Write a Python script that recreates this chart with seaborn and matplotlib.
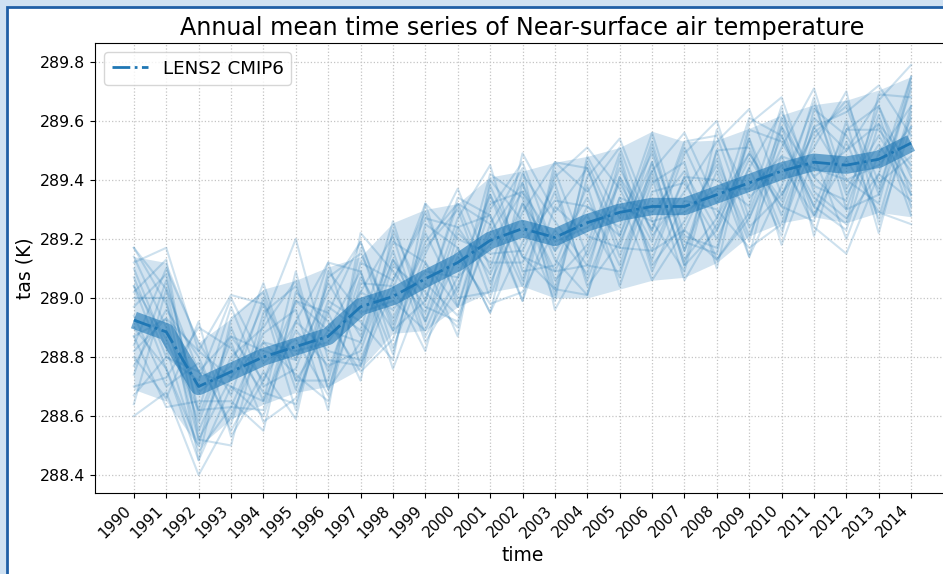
import numpy as np
import pandas as pd
import matplotlib
matplotlib.use("Agg")
import matplotlib.pyplot as plt
from matplotlib.patches import Rectangle
import seaborn as sns

years = list(range(1990, 2015))

ens_mean = [288.925, 288.885, 288.70, 288.75, 288.80, 288.835, 288.87, 288.97, 289.005,
            289.065, 289.12, 289.195, 289.235, 289.205, 289.255, 289.29, 289.31, 289.31,
            289.35, 289.39, 289.43, 289.46, 289.45, 289.47, 289.525]

band_upper = [289.14, 289.12, 288.85, 288.93, 289.03, 289.06, 289.105, 289.14, 289.255,
              289.30, 289.32, 289.41, 289.43, 289.46, 289.48, 289.51, 289.565, 289.53,
              289.535, 289.575, 289.62, 289.655, 289.67, 289.705, 289.75]
band_lower = [288.69, 288.65, 288.495, 288.59, 288.64, 288.68, 288.70, 288.76, 288.88,
              288.89, 288.97, 289.02, 289.04, 289.00, 289.00, 289.03, 289.06, 289.07,
              289.12, 289.21, 289.255, 289.275, 289.255, 289.29, 289.275]

m01 = [288.97, 289.08, 288.60, 288.87, 288.72, 288.99, 288.89, 288.85, 289.19, 289.12, 288.97, 289.30, 289.46, 289.16, 289.34, 289.11, 289.43, 289.56, 289.32, 289.49, 289.31, 289.61, 289.50, 289.67, 289.79]
m02 = [288.60, 288.68, 288.40, 288.60, 288.85, 288.74, 288.65, 289.05, 289.04, 288.82, 289.22, 289.12, 289.12, 289.36, 289.06, 289.34, 289.06, 289.23, 289.47, 289.21, 289.48, 289.24, 289.15, 289.42, 289.33]
m03 = [289.12, 289.17, 288.82, 289.01, 288.98, 288.79, 289.02, 289.19, 288.91, 289.19, 289.32, 289.05, 289.29, 289.46, 289.36, 289.51, 289.21, 289.36, 289.53, 289.64, 289.35, 289.56, 289.65, 289.35, 289.61]
m04 = [288.82, 288.93, 288.52, 288.50, 288.92, 289.20, 288.79, 288.77, 289.11, 289.02, 288.90, 289.38, 289.14, 289.03, 289.46, 289.21, 289.46, 289.11, 289.23, 289.44, 289.63, 289.41, 289.30, 289.62, 289.31]
m05 = [289.07, 288.80, 288.75, 288.70, 288.60, 288.92, 289.12, 289.09, 288.81, 289.25, 289.17, 288.95, 289.39, 289.13, 289.01, 289.41, 289.13, 289.41, 289.13, 289.29, 289.58, 289.28, 289.53, 289.27, 289.65]
m06 = [288.70, 288.73, 288.90, 288.83, 288.68, 288.64, 288.97, 288.89, 289.26, 288.92, 289.24, 289.28, 288.99, 289.31, 289.21, 289.17, 289.51, 289.16, 289.43, 289.14, 289.38, 289.66, 289.35, 289.52, 289.35]
m07 = [289.00, 289.00, 288.45, 288.93, 289.02, 288.72, 288.72, 289.12, 289.06, 289.29, 289.02, 289.42, 289.34, 289.01, 289.41, 289.54, 289.26, 289.09, 289.50, 289.51, 289.23, 289.54, 289.67, 289.39, 289.48]
m08 = [288.87, 288.63, 288.65, 288.65, 288.55, 289.02, 288.92, 288.75, 288.86, 289.15, 289.37, 289.10, 289.42, 289.26, 289.11, 289.09, 289.39, 289.46, 289.10, 289.57, 289.53, 289.34, 289.25, 289.69, 289.68]
m09 = [289.17, 289.03, 288.55, 288.80, 288.90, 289.06, 288.69, 289.02, 289.21, 288.87, 289.07, 289.35, 289.06, 289.41, 289.51, 289.37, 289.16, 289.41, 289.40, 289.31, 289.65, 289.21, 289.57, 289.57, 289.43]
m10 = [288.77, 288.96, 288.80, 288.55, 288.75, 288.59, 289.07, 289.15, 288.93, 289.17, 289.30, 289.00, 289.32, 289.09, 289.31, 289.24, 289.56, 289.21, 289.17, 289.54, 289.28, 289.58, 289.40, 289.32, 289.73]
m11 = [289.04, 288.76, 288.50, 288.90, 288.65, 288.89, 288.77, 288.82, 289.13, 288.97, 288.92, 289.25, 289.44, 288.96, 289.16, 289.44, 289.23, 289.53, 289.55, 289.24, 289.35, 289.51, 289.70, 289.25, 289.58]
m12 = [288.84, 289.10, 288.85, 288.67, 289.00, 288.69, 288.99, 288.92, 288.79, 289.32, 289.20, 289.15, 289.16, 289.39, 289.04, 289.19, 289.43, 289.13, 289.27, 289.61, 289.55, 289.31, 289.23, 289.59, 289.28]
m13 = [289.10, 288.83, 288.48, 288.63, 288.88, 288.96, 288.62, 289.22, 289.09, 288.95, 289.27, 289.45, 289.09, 289.11, 289.38, 289.04, 289.36, 289.39, 289.20, 289.44, 289.21, 289.64, 289.55, 289.37, 289.71]
m14 = [288.74, 289.06, 288.62, 288.97, 288.70, 288.76, 289.05, 288.87, 289.16, 288.85, 289.04, 289.32, 289.36, 289.06, 289.18, 289.49, 289.11, 289.26, 289.45, 289.19, 289.61, 289.38, 289.33, 289.65, 289.41]
m15 = [288.94, 288.70, 288.78, 288.57, 288.95, 289.04, 288.75, 289.07, 288.89, 289.22, 289.00, 289.02, 289.49, 289.29, 289.44, 289.14, 289.41, 289.06, 289.25, 289.47, 289.31, 289.26, 289.60, 289.22, 289.63]
m16 = [289.14, 288.90, 288.58, 288.85, 288.58, 288.66, 288.95, 288.72, 289.23, 288.99, 289.34, 289.28, 289.04, 289.43, 289.14, 289.39, 289.19, 289.49, 289.60, 289.27, 289.51, 289.71, 289.37, 289.55, 289.38]
m17 = [288.67, 288.80, 288.72, 289.00, 288.78, 288.86, 288.67, 289.17, 288.83, 289.12, 288.87, 289.40, 289.26, 288.99, 289.48, 289.27, 289.49, 289.19, 289.15, 289.59, 289.68, 289.36, 289.27, 289.42, 289.75]
m18 = [289.02, 289.13, 288.52, 288.73, 288.98, 288.62, 289.09, 288.95, 288.99, 288.89, 289.14, 288.98, 289.02, 289.23, 289.08, 289.47, 289.09, 289.33, 289.30, 289.17, 289.25, 289.58, 289.63, 289.72, 289.55]
m19 = [288.80, 288.66, 288.92, 288.53, 288.72, 288.92, 288.82, 288.79, 289.06, 289.27, 289.24, 289.08, 289.32, 289.16, 289.28, 289.07, 289.46, 289.11, 289.57, 289.34, 289.45, 289.28, 289.47, 289.29, 289.25]
m20 = [289.17, 288.98, 288.68, 288.77, 289.05, 288.72, 288.89, 289.09, 288.76, 289.05, 288.94, 289.22, 289.39, 289.03, 289.01, 289.34, 289.29, 289.43, 289.23, 289.54, 289.18, 289.48, 289.20, 289.49, 289.65]
m21 = [288.90, 288.76, 288.45, 288.70, 288.65, 289.09, 288.69, 288.85, 289.13, 288.92, 289.17, 288.95, 289.19, 289.33, 289.31, 289.21, 289.53, 289.16, 289.50, 289.14, 289.58, 289.41, 289.50, 289.59, 289.45]
m22 = [288.64, 289.03, 288.75, 288.87, 288.82, 288.79, 289.12, 288.77, 289.03, 289.32, 288.97, 289.35, 289.14, 289.09, 289.11, 289.41, 289.23, 289.51, 289.27, 289.49, 289.33, 289.68, 289.30, 289.35, 289.75]
m23 = [289.04, 288.86, 288.62, 288.63, 288.62, 288.99, 288.95, 289.19, 288.89, 288.99, 289.32, 289.25, 288.99, 289.46, 289.44, 289.17, 289.16, 289.23, 289.13, 289.27, 289.55, 289.31, 289.57, 289.65, 289.35]
m24 = [288.87, 288.93, 288.82, 288.73, 288.85, 288.82, 288.85, 289.02, 288.96, 289.09, 289.07, 289.18, 289.36, 289.19, 289.24, 289.31, 289.26, 289.29, 289.37, 289.37, 289.48, 289.44, 289.40, 289.45, 289.58]

members = [m01, m02, m03, m04, m05, m06, m07, m08, m09, m10, m11, m12,
           m13, m14, m15, m16, m17, m18, m19, m20, m21, m22, m23, m24]

ytick_vals = [288.4, 288.6, 288.8, 289.0, 289.2, 289.4, 289.6, 289.8]

# long-form table for seaborn
rows = []
for k, m in enumerate(members):
    for yr, v in zip(years, m):
        rows.append({"member": k, "time": yr, "tas": v})
df = pd.DataFrame(rows)

W, H = 943, 574
fig = plt.figure(figsize=(W / 100, H / 100), dpi=100)
fig.patch.set_facecolor("#cfe1f2")
fig.add_artist(Rectangle((6.5 / W, -0.1), 1.2, 1 - 7.5 / H + 0.1,
                         transform=fig.transFigure, facecolor="white",
                         edgecolor="#1f5fa6", linewidth=2, zorder=-10))

ax = fig.add_axes([95 / W, (H - 493) / H, (950 - 95) / W, (493 - 43) / H])
c0 = "#1f77b4"

sns.lineplot(data=df, x="time", y="tas", units="member", estimator=None,
             color=c0, alpha=0.22, linewidth=1.5, legend=False, ax=ax)
ax.fill_between(years, band_lower, band_upper, color=c0, alpha=0.2, linewidth=0)
sns.lineplot(x=years, y=ens_mean, color=c0, linewidth=12.5, alpha=0.6, ax=ax,
             solid_capstyle="butt", solid_joinstyle="round")
sns.lineplot(x=years, y=ens_mean, color=c0, linewidth=2, linestyle="-.",
             label="LENS2 CMIP6", ax=ax)

ax.set_xlim(1988.8, 2015.2)
ax.set_ylim(288.339, 289.864)
ax.set_xticks(years)
ax.set_xticklabels([str(y) for y in years], rotation=45, ha="right", fontsize=11)
ax.set_yticks(ytick_vals)
ax.set_yticklabels([f"{v:.1f}" for v in ytick_vals], fontsize=11.3)
ax.grid(True, linestyle=":", color="#c4c4c4", linewidth=0.9)
ax.set_axisbelow(True)
ax.set_xlabel("time", fontsize=13.5)
ax.set_ylabel("tas (K)", fontsize=13.5)
ax.set_title("Annual mean time series of Near-surface air temperature", fontsize=17.2)
ax.legend(loc="upper left", fontsize=13.2)

fig.savefig("out.png", dpi=100, facecolor=fig.get_facecolor())
